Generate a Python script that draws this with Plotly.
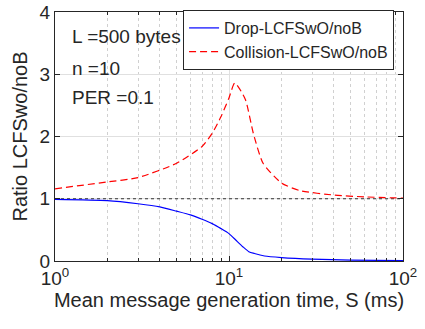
import plotly.graph_objects as go

s_coll = [1, 2, 3, 5, 7, 8, 9, 10, 10.8, 12.4, 13.8, 15.7, 20.1, 25.6, 40, 60, 100]
collision = [1.16, 1.27, 1.34, 1.57, 1.84, 2.05, 2.32, 2.62, 2.86, 2.6, 2.05, 1.57, 1.25, 1.13, 1.06, 1.03, 1.01]

s_drop = [1, 2, 3, 4, 5, 6, 7, 8, 9, 10, 11, 12, 13, 14, 16, 20, 30, 50, 100]
drop = [0.99, 0.97, 0.92, 0.87, 0.80, 0.74, 0.67, 0.60, 0.52, 0.44, 0.33, 0.23, 0.15, 0.12, 0.08, 0.055, 0.03, 0.015, 0.005]

ref_x = [1, 100]
ref_y = [1, 1]

x_major = [1, 10, 100]
x_major_text = ["10<sup>0</sup>", "10<sup>1</sup>", "10<sup>2</sup>"]
x_minor = [2, 3, 4, 5, 6, 7, 8, 9, 20, 30, 40, 50, 60, 70, 80, 90]
y_ticks = [0, 1, 2, 3, 4]

annotations_text = ["L =500 bytes", "n =10", "PER =0.1"]
annotations_y = [3.6, 3.1, 2.62]

font = "Liberation Sans, Arial, sans-serif"
tc = "#262626"

fig = go.Figure()
fig.add_trace(go.Scatter(x=ref_x, y=ref_y, mode="lines", line=dict(color="#333333", width=1, dash="dot"),
                         showlegend=False, hoverinfo="skip"))
fig.add_trace(go.Scatter(x=s_drop, y=drop, mode="lines", name="Drop-LCFSwO/noB",
                         line=dict(color="#0000ff", width=1.2, shape="spline", smoothing=0.6)))
fig.add_trace(go.Scatter(x=s_coll, y=collision, mode="lines", name="Collision-LCFSwO/noB",
                         line=dict(color="#ff0000", width=1.2, dash="7px,4px", shape="spline", smoothing=0.6)))

for t, yv in zip(annotations_text, annotations_y):
    fig.add_annotation(x=0.043, y=yv, xref="paper", yref="y", text=t, showarrow=False,
                       xanchor="left", yanchor="middle", font=dict(family=font, size=19, color=tc))

fig.update_layout(
    width=425, height=329,
    margin=dict(l=55, r=22, t=12, b=68, autoexpand=False),
    paper_bgcolor="white", plot_bgcolor="white",
    font=dict(family=font, size=16, color=tc),
    legend=dict(x=0.368, y=1.008, xanchor="left", yanchor="top", bgcolor="white",
                bordercolor="#262626", borderwidth=1, font=dict(size=16, color=tc),
                tracegroupgap=0, itemwidth=30),
)
fig.update_xaxes(
    type="log", range=[0, 2], tickvals=x_major, ticktext=x_major_text,
    ticks="inside", ticklen=5, tickcolor="#262626", automargin=False,
    showline=True, linecolor="#262626", linewidth=1, mirror="ticks",
    showgrid=True, gridcolor="#e0e0e0", gridwidth=1,
    minor=dict(tickvals=x_minor, ticks="inside", ticklen=3, tickcolor="#262626", showgrid=True,
               gridcolor="#d0d0d0", griddash="dot", gridwidth=1),
    title=dict(text="Mean message generation time, S (ms)", font=dict(size=20, color=tc), standoff=4),
    tickfont=dict(size=19, color=tc), zeroline=False,
)
fig.update_yaxes(
    range=[0, 4], tickvals=y_ticks,
    ticks="inside", ticklen=5, tickcolor="#262626", automargin=False,
    showline=True, linecolor="#262626", linewidth=1, mirror="ticks",
    showgrid=True, gridcolor="#e0e0e0", gridwidth=1, zeroline=False,
    title=dict(text="Ratio LCFSwo/noB", font=dict(size=20, color=tc), standoff=6),
    tickfont=dict(size=19, color=tc),
)
fig.write_html("out.html", config={"displayModeBar": False},
               post_script="document.body.style.margin='0';")
